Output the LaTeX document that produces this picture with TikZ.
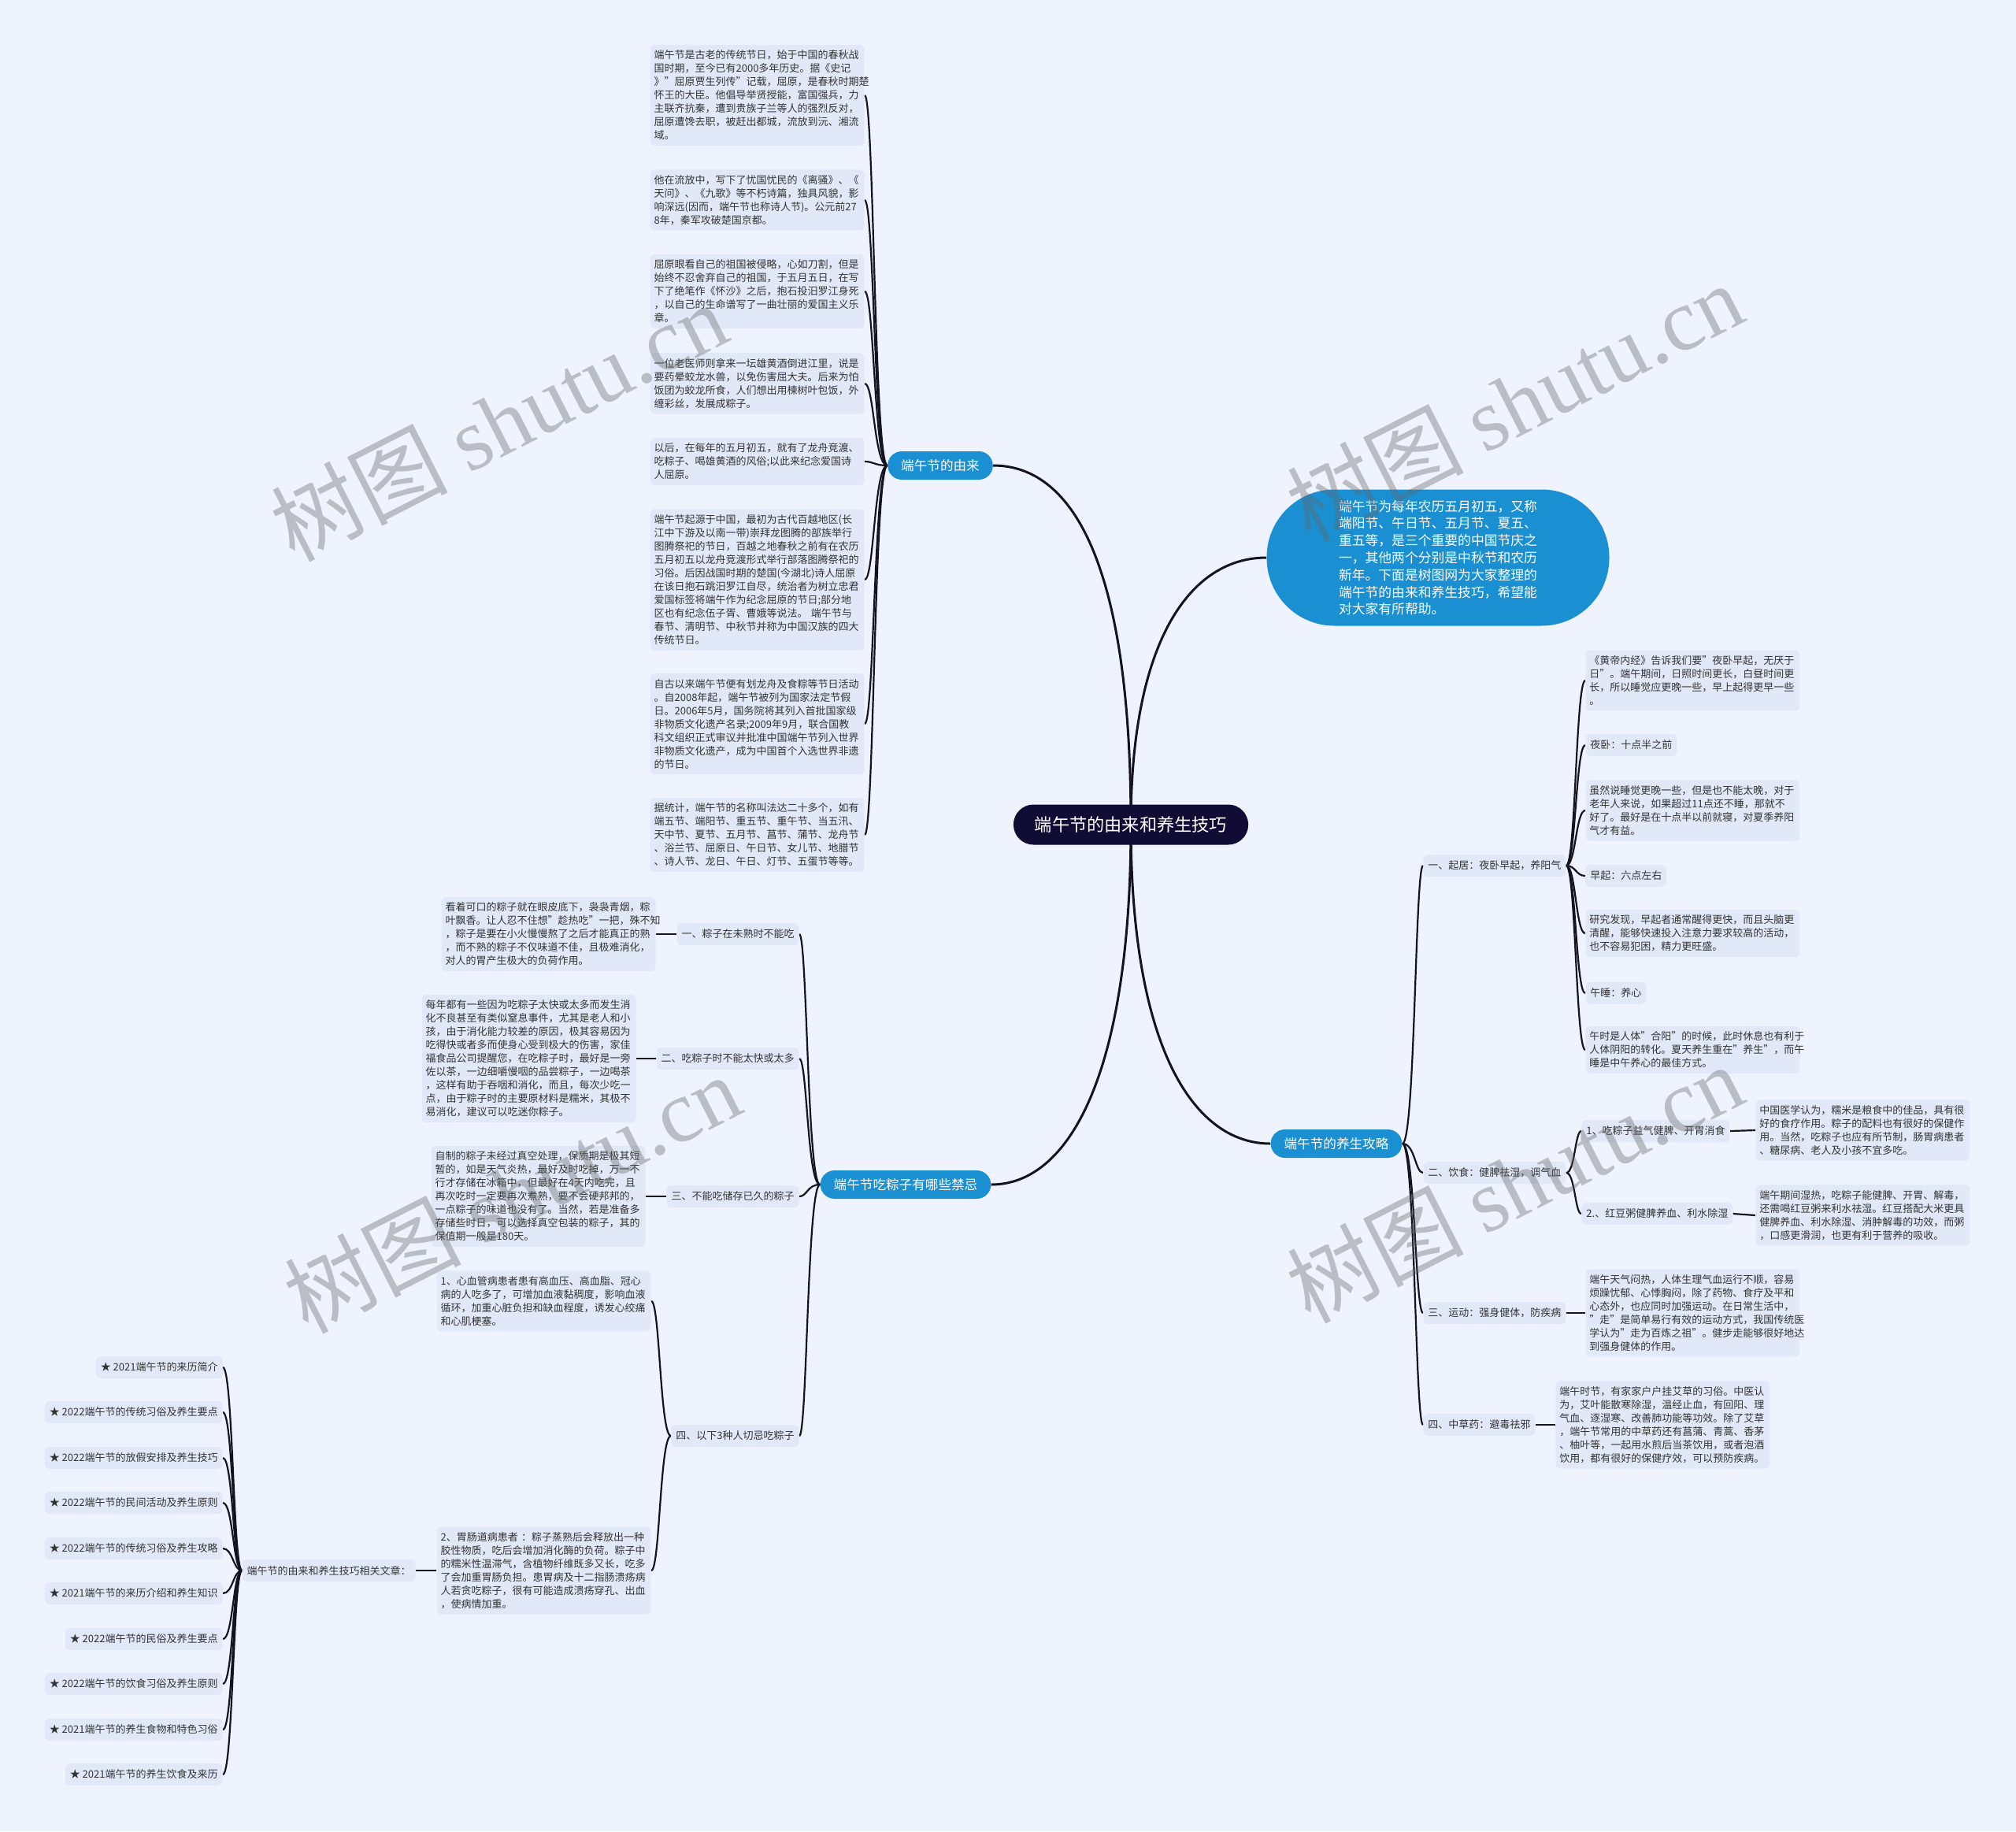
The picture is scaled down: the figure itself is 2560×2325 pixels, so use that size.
\documentclass[tikz,border=0pt]{standalone}
\usepackage{fontspec}
\setmainfont{Noto Sans CJK SC}
\newfontfamily\wmserif{Liberation Serif}
\usetikzlibrary{calc}
\pgfdeclarelayer{bg}
\pgfdeclarelayer{lines}
\pgfsetlayers{bg,lines,main}
\definecolor{bgc}{HTML}{EEF3FD}
\definecolor{boxc}{HTML}{E1E9F9}
\definecolor{txtc}{HTML}{333333}
\definecolor{bluec}{HTML}{1A8FD2}
\definecolor{navyc}{HTML}{110C35}
\definecolor{linec}{HTML}{15131F}
\newcommand\fsS{\fontsize{6.5pt}{8.5pt}\selectfont}
\newcommand\fsB{\fontsize{8.3pt}{10pt}\selectfont}
\newcommand\fsR{\fontsize{11.1pt}{13pt}\selectfont}
\newcommand\fsI{\fontsize{8.4pt}{10.9pt}\selectfont}
\newcommand\fsW{\fontsize{56pt}{60pt}\selectfont}
\newcommand\brk[3]{\draw[conn] (#1) .. controls (#2 |- #1) and (#2 |- #3) .. (#3);}
\tikzset{
 blk/.style={fill=boxc, rounded corners=3pt, inner xsep=2.5pt, inner ysep=3.5pt, font=\fsS, align=left, text width=131pt, text=txtc},
 lab/.style={fill=boxc, rounded corners=3pt, inner xsep=3pt, inner ysep=0pt, minimum height=14pt, font=\fsS, text=txtc},
 brn/.style={fill=bluec, text=white, rounded corners=9pt, minimum height=18pt, inner xsep=8.5pt, inner ysep=0pt, font=\fsB},
 conn/.style={draw=linec, line width=1.1pt},
 mainc/.style={draw=linec, line width=1.5pt},
 wm/.style={font=\fsW, text=black!60, text opacity=0.38, rotate=27},
}
\begin{document}
\begin{tikzpicture}[x=0.5pt,y=-0.5pt]
\useasboundingbox (0,0) rectangle (2560,2325);
\begin{pgfonlayer}{bg}
\fill[bgc] (0,0) rectangle (2560,2325);
\end{pgfonlayer}

% root and first-level
\node[fill=navyc, text=white, rounded corners=12.7pt, minimum height=25.5pt, inner xsep=13.5pt, inner ysep=0pt, font=\fsR] (root) at (1436,1047) {端午节的由来和养生技巧};
\node[fill=bluec, text=white, rounded corners=43pt, minimum width=217.5pt, minimum height=86.5pt, align=left, font=\fsI] (intro) at (1826,708) {端午节为每年农历五月初五，又称\\端阳节、午日节、五月节、夏五、\\重五等，是三个重要的中国节庆之\\一，其他两个分别是中秋节和农历\\新年。下面是树图网为大家整理的\\端午节的由来和养生技巧，希望能\\对大家有所帮助。};
\node[brn] (youlai) at (1194,591) {端午节的由来};
\node[brn] (jinji) at (1150,1504) {端午节吃粽子有哪些禁忌};
\node[brn] (yang) at (1697,1452) {端午节的养生攻略};

% ---- 由来 children
\node[blk, anchor=east] (b1) at (1098,121) {端午节是古老的传统节日，始于中国的春秋战\\国时期，至今已有2000多年历史。据《史记\\》"屈原贾生列传"记载，屈原，是春秋时期楚\\怀王的大臣。他倡导举贤授能，富国强兵，力\\主联齐抗秦，遭到贵族子兰等人的强烈反对，\\屈原遭馋去职，被赶出都城，流放到沅、湘流\\域。};
\node[blk, anchor=east] (b2) at (1098,254) {他在流放中，写下了忧国忧民的《离骚》、《\\天问》、《九歌》等不朽诗篇，独具风貌，影\\响深远(因而，端午节也称诗人节)。公元前27\\8年，秦军攻破楚国京都。};
\node[blk, anchor=east] (b3) at (1098,370) {屈原眼看自己的祖国被侵略，心如刀割，但是\\始终不忍舍弃自己的祖国，于五月五日，在写\\下了绝笔作《怀沙》之后，抱石投汨罗江身死\\，以自己的生命谱写了一曲壮丽的爱国主义乐\\章。};
\node[blk, anchor=east] (b4) at (1098,487) {一位老医师则拿来一坛雄黄酒倒进江里，说是\\要药晕蛟龙水兽，以免伤害屈大夫。后来为怕\\饭团为蛟龙所食，人们想出用楝树叶包饭，外\\缠彩丝，发展成粽子。};
\node[blk, anchor=east] (b5) at (1098,586) {以后，在每年的五月初五，就有了龙舟竞渡、\\吃粽子、喝雄黄酒的风俗;以此来纪念爱国诗\\人屈原。};
\node[blk, anchor=east] (b6) at (1098,736) {端午节起源于中国，最初为古代百越地区(长\\江中下游及以南一带)崇拜龙图腾的部族举行\\图腾祭祀的节日，百越之地春秋之前有在农历\\五月初五以龙舟竞渡形式举行部落图腾祭祀的\\习俗。后因战国时期的楚国(今湖北)诗人屈原\\在该日抱石跳汨罗江自尽，统治者为树立忠君\\爱国标签将端午作为纪念屈原的节日;部分地\\区也有纪念伍子胥、曹娥等说法。 端午节与\\春节、清明节、中秋节并称为中国汉族的四大\\传统节日。};
\node[blk, anchor=east] (b7) at (1098,919) {自古以来端午节便有划龙舟及食粽等节日活动\\。自2008年起，端午节被列为国家法定节假\\日。2006年5月，国务院将其列入首批国家级\\非物质文化遗产名录;2009年9月，联合国教\\科文组织正式审议并批准中国端午节列入世界\\非物质文化遗产，成为中国首个入选世界非遗\\的节日。};
\node[blk, anchor=east] (b8) at (1098,1060) {据统计，端午节的名称叫法达二十多个，如有\\端五节、端阳节、重五节、重午节、当五汛、\\天中节、夏节、五月节、菖节、蒲节、龙舟节\\、浴兰节、屈原日、午日节、女儿节、地腊节\\、诗人节、龙日、午日、灯节、五蛋节等等。};
\coordinate (ty) at (1110,591);

% ---- 禁忌 children
\node[lab, anchor=east] (j1) at (1015,1186) {一、粽子在未熟时不能吃};
\node[lab, anchor=east] (j2) at (1015,1344) {二、吃粽子时不能太快或太多};
\node[lab, anchor=east] (j3) at (1015,1519) {三、不能吃储存已久的粽子};
\node[lab, anchor=east] (j4) at (1015,1823) {四、以下3种人切忌吃粽子};
\coordinate (tj) at (1025,1504);
\node[blk, anchor=east] (k1) at (833,1186) {看着可口的粽子就在眼皮底下，袅袅青烟，粽\\叶飘香。让人忍不住想"趁热吃"一把，殊不知\\，粽子是要在小火慢慢熬了之后才能真正的熟\\，而不熟的粽子不仅味道不佳，且极难消化，\\对人的胃产生极大的负荷作用。};
\node[blk, anchor=east] (k2) at (808,1344) {每年都有一些因为吃粽子太快或太多而发生消\\化不良甚至有类似窒息事件，尤其是老人和小\\孩，由于消化能力较差的原因，极其容易因为\\吃得快或者多而使身心受到极大的伤害，家佳\\福食品公司提醒您，在吃粽子时，最好是一旁\\佐以茶，一边细嚼慢咽的品尝粽子，一边喝茶\\，这样有助于吞咽和消化，而且，每次少吃一\\点，由于粽子时的主要原材料是糯米，其极不\\易消化，建议可以吃迷你粽子。};
\node[blk, anchor=east] (k3) at (820,1519) {自制的粽子未经过真空处理，保质期是极其短\\暂的，如是天气炎热，最好及时吃掉，万一不\\行才存储在冰箱中，但最好在4天内吃完，且\\再次吃时一定要再次煮熟，要不会硬邦邦的，\\一点粽子的味道也没有了。当然，若是准备多\\存储些时日，可以选择真空包装的粽子，其的\\保值期一般是180天。};
\node[blk, anchor=east] (s1) at (827,1652) {1、心血管病患者患有高血压、高血脂、冠心\\病的人吃多了，可增加血液黏稠度，影响血液\\循环，加重心脏负担和缺血程度，诱发心绞痛\\和心肌梗塞。};
\node[blk, anchor=east] (s2) at (827,1994) {2、胃肠道病患者 ：粽子蒸熟后会释放出一种\\胶性物质，吃后会增加消化酶的负荷。粽子中\\的糯米性温滞气，含植物纤维既多又长，吃多\\了会加重胃肠负担。患胃病及十二指肠溃疡病\\人若贪吃粽子，很有可能造成溃疡穿孔、出血\\，使病情加重。};
\coordinate (ts) at (838,1823);
\node[lab, anchor=east] (xg) at (528,1994) {端午节的由来和养生技巧相关文章：};
\node[lab, anchor=east] (st1) at (283,1736) {★ 2021端午节的来历简介};
\node[lab, anchor=east] (st2) at (283,1793) {★ 2022端午节的传统习俗及养生要点};
\node[lab, anchor=east] (st3) at (283,1851) {★ 2022端午节的放假安排及养生技巧};
\node[lab, anchor=east] (st4) at (283,1908) {★ 2022端午节的民间活动及养生原则};
\node[lab, anchor=east] (st5) at (283,1966) {★ 2022端午节的传统习俗及养生攻略};
\node[lab, anchor=east] (st6) at (283,2023) {★ 2021端午节的来历介绍和养生知识};
\node[lab, anchor=east] (st7) at (283,2081) {★ 2022端午节的民俗及养生要点};
\node[lab, anchor=east] (st8) at (283,2138) {★ 2022端午节的饮食习俗及养生原则};
\node[lab, anchor=east] (st9) at (283,2196) {★ 2021端午节的养生食物和特色习俗};
\node[lab, anchor=east] (st10) at (283,2253) {★ 2021端午节的养生饮食及来历};
\coordinate (tst) at (296,1994);

% ---- 养生攻略 children
\node[lab, anchor=west] (q1) at (1807,1099) {一、起居：夜卧早起，养阳气};
\node[lab, anchor=west] (q2) at (1807,1489) {二、饮食：健脾祛湿，调气血};
\node[lab, anchor=west] (q3) at (1807,1667) {三、运动：强身健体，防疾病};
\node[lab, anchor=west] (q4) at (1807,1809) {四、中草药：避毒祛邪};
\coordinate (tyg) at (1797,1452);
\node[blk, anchor=west] (r1) at (2013,864) {《黄帝内经》告诉我们要"夜卧早起，无厌于\\日"。端午期间，日照时间更长，白昼时间更\\长，所以睡觉应更晚一些，早上起得更早一些\\。};
\node[lab, anchor=west] (r2) at (2013,946) {夜卧：十点半之前};
\node[blk, anchor=west] (r3) at (2013,1029) {虽然说睡觉更晚一些，但是也不能太晚，对于\\老年人来说，如果超过11点还不睡，那就不\\好了。最好是在十点半以前就寝，对夏季养阳\\气才有益。};
\node[lab, anchor=west] (r4) at (2013,1112) {早起：六点左右};
\node[blk, anchor=west] (r5) at (2013,1185) {研究发现，早起者通常醒得更快，而且头脑更\\清醒，能够快速投入注意力要求较高的活动，\\也不容易犯困，精力更旺盛。};
\node[lab, anchor=west] (r6) at (2013,1261) {午睡：养心};
\node[blk, anchor=west] (r7) at (2013,1333) {午时是人体"合阳"的时候，此时休息也有利于\\人体阴阳的转化。夏天养生重在"养生"，而午\\睡是中午养心的最佳方式。};
\coordinate (tq) at (2001,1099);
\node[lab, anchor=west] (y1) at (2008,1436) {1、吃粽子益气健脾、开胃消食};
\node[lab, anchor=west] (y2) at (2008,1541) {2.、红豆粥健脾养血、利水除湿};
\coordinate (tys) at (2000,1489);
\node[blk, anchor=west] (y1t) at (2229,1435) {中国医学认为，糯米是粮食中的佳品，具有很\\好的食疗作用。粽子的配料也有很好的保健作\\用。当然，吃粽子也应有所节制，肠胃病患者\\、糖尿病、老人及小孩不宜多吃。};
\node[blk, anchor=west] (y2t) at (2229,1543) {端午期间湿热，吃粽子能健脾、开胃、解毒，\\还需喝红豆粥来利水祛湿。红豆搭配大米更具\\健脾养血、利水除湿、消肿解毒的功效，而粥\\，口感更滑润，也更有利于营养的吸收。};
\node[blk, anchor=west] (q3t) at (2013,1667) {端午天气闷热，人体生理气血运行不顺，容易\\烦躁忧郁、心悸胸闷，除了药物、食疗及平和\\心态外，也应同时加强运动。在日常生活中，\\"走"是简单易行有效的运动方式，我国传统医\\学认为"走为百炼之祖"。健步走能够很好地达\\到强身健体的作用。};
\node[blk, anchor=west] (q4t) at (1975,1809) {端午时节，有家家户户挂艾草的习俗。中医认\\为，艾叶能散寒除湿，温经止血，有回阳、理\\气血、逐湿寒、改善肺功能等功效。除了艾草\\，端午节常用的中草药还有菖蒲、青蒿、香茅\\、柚叶等，一起用水煎后当茶饮用，或者泡酒\\饮用，都有很好的保健疗效，可以预防疾病。};

% ---- connectors
\coordinate (c1) at (root.center |- youlai.east);
\coordinate (c2) at (root.center |- intro.west);
\coordinate (c3) at (root.center |- jinji.east);
\coordinate (c4) at (root.center |- yang.west);
\begin{pgfonlayer}{lines}
\draw[mainc] (root.center) .. controls ($(root.center)!0.75!(c1)$) and ($(youlai.east)!0.55!(c1)$) .. (youlai.east);
\draw[mainc] (root.center) .. controls ($(root.center)!0.7!(c2)$) and ($(intro.west)!0.55!(c2)$) .. (intro.west);
\draw[mainc] (root.center) .. controls ($(root.center)!0.7!(c3)$) and ($(jinji.east)!0.55!(c3)$) .. (jinji.east);
\draw[mainc] (root.center) .. controls ($(root.center)!0.7!(c4)$) and ($(yang.west)!0.55!(c4)$) .. (yang.west);
\foreach \n in {b1,b2,b3,b4,b5,b6,b7,b8}{\brk{youlai.west}{ty}{\n.east}}
\foreach \n in {j1,j2,j3,j4}{\brk{jinji.west}{tj}{\n.east}}
\draw[conn] (j1.west) -- (k1.east);
\draw[conn] (j2.west) -- (k2.east);
\draw[conn] (j3.west) -- (k3.east);
\foreach \n in {s1,s2}{\brk{j4.west}{ts}{\n.east}}
\draw[conn] (s2.west) -- (xg.east);
\foreach \n in {st1,st2,st3,st4,st5,st6,st7,st8,st9,st10}{\brk{xg.west}{tst}{\n.east}}
\foreach \n in {q1,q2,q3,q4}{\brk{yang.east}{tyg}{\n.west}}
\foreach \n in {r1,r2,r3,r4,r5,r6,r7}{\brk{q1.east}{tq}{\n.west}}
\foreach \n in {y1,y2}{\brk{q2.east}{tys}{\n.west}}
\draw[conn] (y1.east) -- (y1t.west);
\draw[conn] (y2.east) -- (y2t.west);
\draw[conn] (q3.east) -- (q3t.west);
\draw[conn] (q4.east) -- (q4t.west);
\end{pgfonlayer}

% ---- watermarks
\node[wm] (w1) at (633,535) {树图 {\wmserif shutu.cn}};
\node[wm] (w2) at (1923,510) {树图 {\wmserif shutu.cn}};
\node[wm] (w3) at (650,1515) {树图 {\wmserif shutu.cn}};
\node[wm] (w4) at (1923,1502) {树图 {\wmserif shutu.cn}};
\end{tikzpicture}
\end{document}
